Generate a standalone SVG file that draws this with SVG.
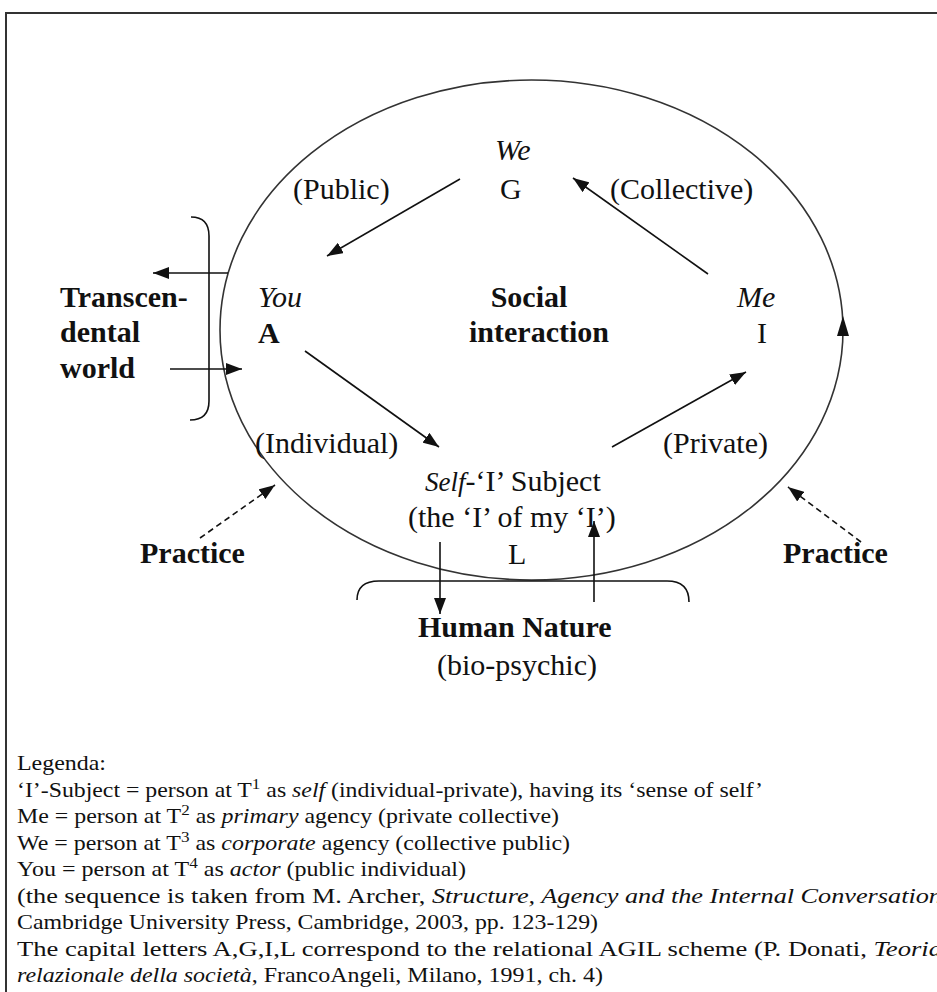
<svg xmlns="http://www.w3.org/2000/svg" width="937" height="992" viewBox="0 0 937 992">
<style>
.t{font-family:"Liberation Serif","Times New Roman",serif;font-size:30px;fill:#111}
.b{font-weight:bold}
.i{font-style:italic}
.lg{font-family:"Liberation Serif","Times New Roman",serif;font-size:21px;fill:#111}
.ln{stroke:#111;stroke-width:1.6;fill:none}
.fr{stroke:#333;stroke-width:2;fill:none}
</style>
<defs>
<marker id="ah" viewBox="0 0 16 12" refX="16" refY="6" markerWidth="16" markerHeight="12" markerUnits="userSpaceOnUse" orient="auto">
<path d="M0,0 L16,6 L0,12 z" fill="#111"/>
</marker>
</defs>
<rect width="937" height="992" fill="#fff"/>
<g id="frame">
<path class="fr" d="M6,992 L6,13 L937,13"/>
</g>
<g id="circle">
<ellipse cx="531.5" cy="330" rx="311.5" ry="250" fill="none" stroke="#333" stroke-width="1.6"/>
<polygon points="843,316 837,336 849,336" fill="#111"/>
</g>
<g id="connectors">
<line class="ln" x1="460" y1="179" x2="327" y2="256" marker-end="url(#ah)"/>
<line class="ln" x1="708" y1="274" x2="573" y2="178" marker-end="url(#ah)"/>
<line class="ln" x1="305" y1="351" x2="439" y2="447" marker-end="url(#ah)"/>
<line class="ln" x1="612" y1="447" x2="746" y2="372" marker-end="url(#ah)"/>
<line class="ln" x1="228" y1="273" x2="153" y2="273" marker-end="url(#ah)"/>
<line class="ln" x1="170" y1="369" x2="242" y2="369" marker-end="url(#ah)"/>
<line class="ln" x1="440" y1="542" x2="440" y2="614" marker-end="url(#ah)"/>
<line class="ln" x1="594" y1="602" x2="594" y2="521" marker-end="url(#ah)"/>
<line class="ln" x1="200" y1="538" x2="275" y2="485" stroke-dasharray="6 4" marker-end="url(#ah)"/>
<line class="ln" x1="861" y1="542" x2="788" y2="487" stroke-dasharray="6 4" marker-end="url(#ah)"/>
</g>
<g id="bracket-left">
<path class="ln" stroke="#444" d="M191,217 Q209,217 209,236 L209,401 Q209,420 190,420"/>
</g>
<g id="bracket-bottom">
<path class="ln" stroke="#444" d="M357,600 Q357,581 379,581 L667,581 Q689,581 689,602"/>
</g>
<g id="node-G">
<text class="t i" x="495" y="160" font-size="27">We</text>
<text class="t" x="500" y="199">G</text>
</g>
<g id="label-public"><text class="t" x="293" y="199">(Public)</text></g>
<g id="label-collective"><text class="t" x="610" y="199">(Collective)</text></g>
<g id="node-A">
<text class="t i" x="258" y="307" font-size="27">You</text>
<text class="t b" x="258" y="343">A</text>
</g>
<g id="node-transcendental">
<text class="t b" x="60" y="307" font-size="31">Transcen-</text>
<text class="t b" x="60" y="342" font-size="31">dental</text>
<text class="t b" x="60" y="378" font-size="31">world</text>
</g>
<g id="node-social">
<text class="t b" x="529" y="307" font-size="31" text-anchor="middle">Social</text>
<text class="t b" x="539" y="342" font-size="31" text-anchor="middle">interaction</text>
</g>
<g id="node-I">
<text class="t i" x="737" y="307" font-size="27">Me</text>
<text class="t" x="757" y="343">I</text>
</g>
<g id="label-individual"><text class="t" x="255" y="453">(Individual)</text></g>
<g id="label-private"><text class="t" x="663" y="453">(Private)</text></g>
<g id="node-L">
<text class="t" x="425" y="491"><tspan class="i" font-size="27">Self</tspan>-‘I’ Subject</text>
<text class="t" x="408" y="527">(the ‘I’ of my ‘I’)</text>
<text class="t" x="508" y="564">L</text>
</g>
<g id="node-practice-left"><text class="t b" x="140" y="563" font-size="31">Practice</text></g>
<g id="node-practice-right"><text class="t b" x="783" y="563" font-size="31">Practice</text></g>
<g id="node-human-nature">
<text class="t b" x="418" y="637" font-size="31">Human Nature</text>
<text class="t" x="437" y="675" font-size="31">(bio-psychic)</text>
</g>
<g id="legend">
<text class="lg" x="17" y="770" textLength="89" lengthAdjust="spacingAndGlyphs">Legenda:</text>
<text class="lg" x="17" y="796.5" textLength="746" lengthAdjust="spacingAndGlyphs">‘I’-Subject = person at T<tspan font-size="15" dy="-8">1</tspan><tspan dy="8"> as </tspan><tspan class="i">self</tspan> (individual-private), having its ‘sense of self’</text>
<text class="lg" x="17" y="823" textLength="542" lengthAdjust="spacingAndGlyphs">Me = person at T<tspan font-size="15" dy="-8">2</tspan><tspan dy="8"> as </tspan><tspan class="i">primary</tspan> agency (private collective)</text>
<text class="lg" x="17" y="849.5" textLength="553" lengthAdjust="spacingAndGlyphs">We = person at T<tspan font-size="15" dy="-8">3</tspan><tspan dy="8"> as </tspan><tspan class="i">corporate</tspan> agency (collective public)</text>
<text class="lg" x="17" y="876" textLength="449" lengthAdjust="spacingAndGlyphs">You = person at T<tspan font-size="15" dy="-8">4</tspan><tspan dy="8"> as </tspan><tspan class="i">actor</tspan> (public individual)</text>
<text class="lg" x="17" y="902.5" textLength="925" lengthAdjust="spacingAndGlyphs">(the sequence is taken from M. Archer, <tspan class="i">Structure, Agency and the Internal Conversation</tspan></text>
<text class="lg" x="17" y="929" textLength="581" lengthAdjust="spacingAndGlyphs">Cambridge University Press, Cambridge, 2003, pp. 123-129)</text>
<text class="lg" x="17" y="955.5" textLength="925" lengthAdjust="spacingAndGlyphs">The capital letters A,G,I,L correspond to the relational AGIL scheme (P. Donati, <tspan class="i">Teoria</tspan></text>
<text class="lg" x="17" y="982" textLength="586" lengthAdjust="spacingAndGlyphs"><tspan class="i">relazionale della società</tspan>, FrancoAngeli, Milano, 1991, ch. 4)</text>
</g>
</svg>
